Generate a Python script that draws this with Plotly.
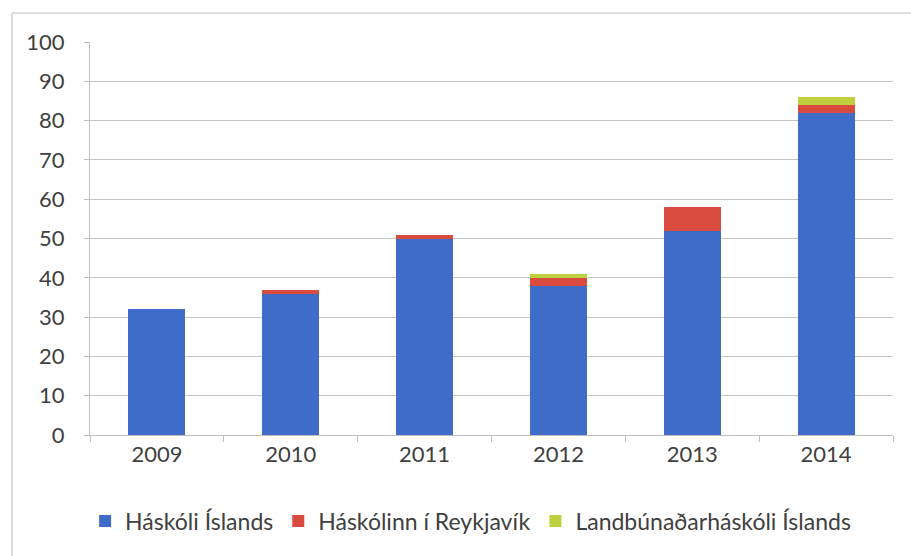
import plotly.graph_objects as go

years = ["2009", "2010", "2011", "2012", "2013", "2014"]
haskoli_islands = [32, 36, 50, 38, 52, 82]
haskolinn_reykjavik = [0, 1, 1, 2, 6, 2]
landbunadar = [0, 0, 0, 1, 0, 2]
series_names = ["Háskóli Íslands", "Háskólinn í Reykjavík", "Landbúnaðarháskóli Íslands"]
colors = ["#3F6CC9", "#D94A3F", "#BED03E"]
y_ticks = list(range(0, 101, 10))

fig = go.Figure()
for name, vals, col in zip(series_names, [haskoli_islands, haskolinn_reykjavik, landbunadar], colors):
    fig.add_trace(go.Bar(x=years, y=vals, name=name, marker=dict(color=col, line=dict(width=0))))

font = dict(family="Lato, Open Sans, sans-serif", size=22, color="#404040")
fig.update_layout(
    barmode="stack",
    bargap=0.575,
    width=911, height=556,
    margin=dict(l=90, r=18, t=42, b=121, autoexpand=False),
    paper_bgcolor="white", plot_bgcolor="white",
    font=font,
    showlegend=True,
    legend=dict(orientation="h", x=0.474, xanchor="center", xref="paper",
                y=0.063, yanchor="middle", yref="container",
                font=dict(size=23, color="#404040"), itemwidth=30, traceorder="normal"),
    xaxis=dict(showline=True, linecolor="#BFBFBF", ticks="outside", tickson="boundaries",
               ticklen=6, tickcolor="#BFBFBF", showgrid=False, tickfont=font, automargin=False),
    yaxis=dict(range=[0, 100], tickvals=y_ticks, showgrid=True, gridcolor="#C4C4C4", gridwidth=1,
               showline=True, linecolor="#BFBFBF", ticks="outside", ticklen=5, tickcolor="#BFBFBF",
               ticklabelstandoff=15, zeroline=False, tickfont=font, automargin=False),
)
# chart frame (top and left edges visible)
fig.add_shape(type="line", xref="paper", yref="paper", x0=-0.0971, x1=1.1, y0=1.0738, y1=1.0738,
              line=dict(color="#D0D0D0", width=1.5))
fig.add_shape(type="line", xref="paper", yref="paper", x0=-0.0971, x1=-0.0971, y0=-0.4, y1=1.0738,
              line=dict(color="#D0D0D0", width=1.5))

fig.write_html("out.html", config={"displayModeBar": False},
               post_script="document.body.style.margin='0';document.body.style.overflow='hidden';")
